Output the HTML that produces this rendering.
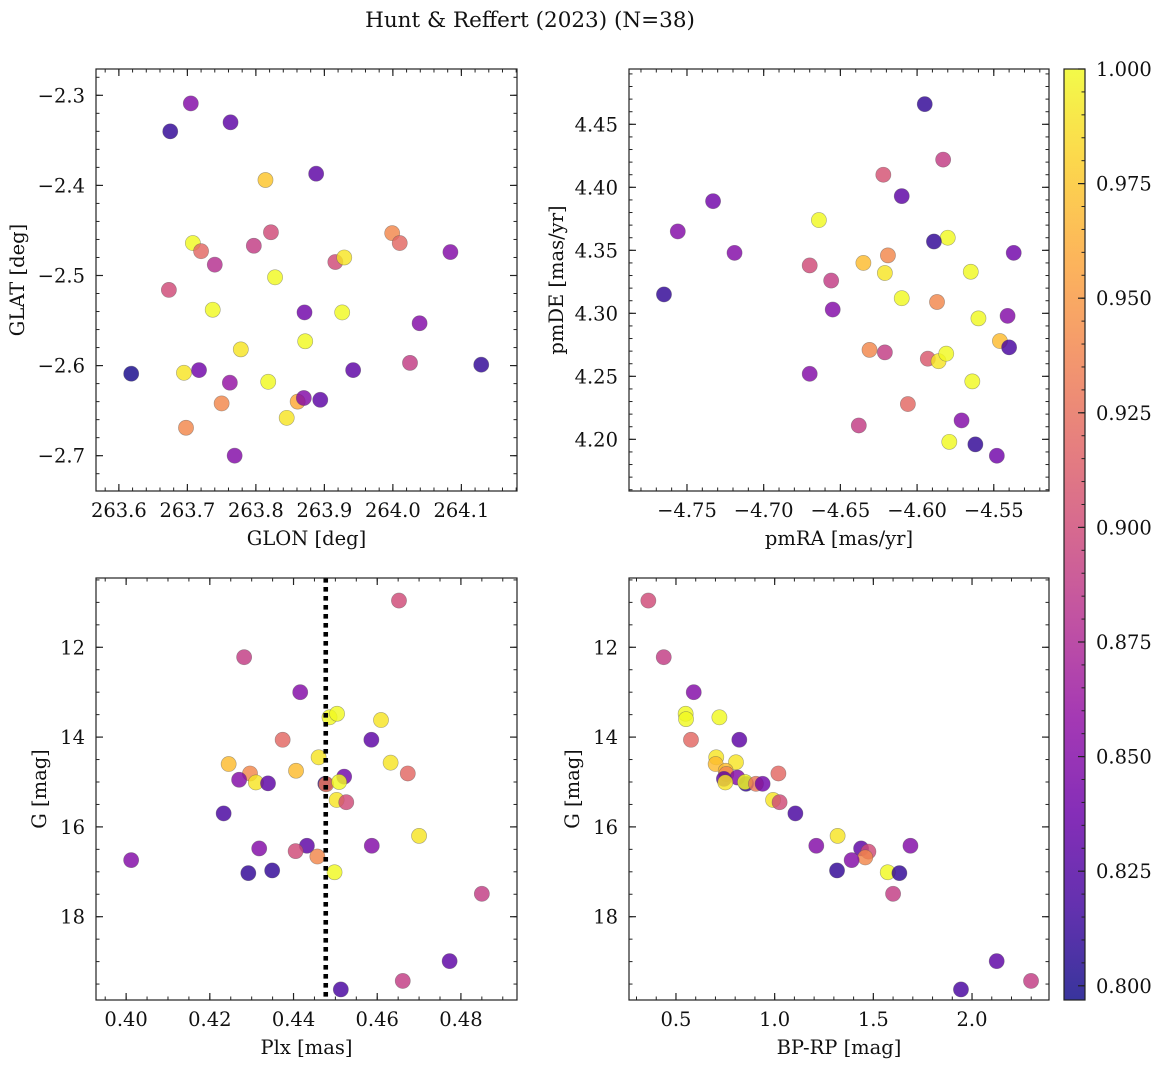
<!DOCTYPE html>
<html><head><meta charset="utf-8">
<style>
html,body{margin:0;padding:0;background:#fff;}
svg{display:block;}
text{font-family:"DejaVu Serif","Liberation Serif",serif;fill:#111;}
</style></head>
<body>
<svg id="fig" width="1161" height="1068" viewBox="0 0 1161 1068" xmlns="http://www.w3.org/2000/svg">
<text x="530" y="27" font-size="21.5" text-anchor="middle">Hunt &amp; Reffert (2023) (N=38)</text>
</svg>
<script>
// ---- Panel 1: GLON / GLAT ----
const glon = [263.675,263.705,263.763,263.814,263.888,263.708,263.720,263.740,263.797,263.822,263.828,263.673,263.737,263.778,263.871,263.916,263.929,263.926,263.872,263.999,264.010,264.039,264.084,263.618,263.695,263.717,263.762,263.750,263.698,263.769,263.818,263.845,263.861,263.870,263.894,263.942,264.025,264.129];
const glat = [-2.340,-2.309,-2.330,-2.394,-2.387,-2.464,-2.473,-2.488,-2.467,-2.452,-2.502,-2.516,-2.538,-2.582,-2.541,-2.485,-2.480,-2.541,-2.573,-2.453,-2.464,-2.553,-2.474,-2.609,-2.608,-2.605,-2.619,-2.642,-2.669,-2.700,-2.618,-2.658,-2.640,-2.636,-2.638,-2.605,-2.597,-2.599];
const prob1 = [0.81,0.85,0.83,0.975,0.83,1.0,0.92,0.88,0.89,0.90,1.0,0.90,1.0,0.99,0.84,0.90,0.99,1.0,1.0,0.94,0.92,0.85,0.85,0.80,0.99,0.84,0.86,0.94,0.94,0.85,1.0,0.99,0.96,0.85,0.83,0.83,0.89,0.81];
// ---- Panel 2: pmRA / pmDE ----
const pmra = [-4.595,-4.583,-4.622,-4.610,-4.733,-4.756,-4.664,-4.580,-4.589,-4.719,-4.619,-4.537,-4.635,-4.621,-4.565,-4.670,-4.656,-4.610,-4.587,-4.655,-4.560,-4.541,-4.765,-4.546,-4.540,-4.631,-4.621,-4.593,-4.586,-4.581,-4.670,-4.564,-4.606,-4.571,-4.638,-4.579,-4.562,-4.548];
const pmde = [4.466,4.422,4.410,4.393,4.389,4.365,4.374,4.360,4.357,4.348,4.346,4.348,4.340,4.332,4.333,4.338,4.326,4.312,4.309,4.303,4.296,4.298,4.315,4.278,4.273,4.271,4.269,4.264,4.262,4.268,4.252,4.246,4.228,4.215,4.211,4.198,4.196,4.187];
const prob2 = [0.81,0.89,0.905,0.83,0.84,0.85,1.0,1.0,0.81,0.85,0.94,0.84,0.97,0.99,1.0,0.90,0.89,1.0,0.94,0.85,1.0,0.85,0.81,0.97,0.82,0.94,0.89,0.91,0.99,1.0,0.85,1.0,0.92,0.85,0.89,1.0,0.81,0.84];
// ---- Panel 3: Plx / G ----
const plx = [0.4652,0.4282,0.4416,0.4486,0.4504,0.4609,0.4374,0.4586,0.4245,0.4460,0.4632,0.4406,0.4296,0.4270,0.4310,0.4339,0.4673,0.4476,0.4478,0.4521,0.4509,0.4503,0.4526,0.4233,0.4700,0.4432,0.4405,0.4318,0.4587,0.4457,0.4012,0.4498,0.4292,0.4349,0.4850,0.4773,0.4661,0.4513];
const gmag3 = [10.96,12.22,13.00,13.56,13.48,13.62,14.06,14.06,14.60,14.45,14.57,14.75,14.81,14.95,15.01,15.03,14.81,15.04,15.05,14.88,15.00,15.40,15.45,15.70,16.20,16.42,16.54,16.48,16.42,16.66,16.74,17.01,17.03,16.97,17.49,18.99,19.43,19.62];
const prob3 = [0.90,0.89,0.85,1.0,1.0,0.99,0.92,0.83,0.97,0.99,0.99,0.97,0.94,0.85,0.99,0.83,0.92,0.81,0.93,0.84,1.0,0.99,0.90,0.82,0.99,0.83,0.90,0.85,0.85,0.94,0.85,1.0,0.81,0.81,0.89,0.83,0.89,0.82];
const plxLine = [0.4477];
// ---- Panel 4: BP-RP / G ----
const bprp = [0.360,0.438,0.590,0.549,0.551,0.720,0.576,0.821,0.704,0.701,0.804,0.752,0.755,0.811,0.743,0.750,1.019,0.855,0.850,0.905,0.939,0.992,1.025,1.105,1.319,1.211,1.438,1.475,1.459,1.688,1.390,1.316,1.573,1.632,1.600,2.125,2.299,1.944];
const gmag4 = [10.96,12.22,13.00,13.48,13.60,13.56,14.06,14.06,14.45,14.60,14.56,14.75,14.82,14.90,14.93,15.01,14.81,15.04,15.00,15.04,15.04,15.40,15.45,15.70,16.20,16.42,16.48,16.55,16.68,16.42,16.74,16.97,17.01,17.03,17.49,18.99,19.43,19.62];
const prob4 = [0.90,0.89,0.85,1.0,1.0,1.0,0.92,0.83,0.99,0.97,0.99,0.97,0.94,0.85,0.83,0.99,0.92,0.81,1.0,0.93,0.84,0.99,0.90,0.82,0.99,0.85,0.83,0.90,0.94,0.85,0.85,0.81,1.0,0.81,0.89,0.83,0.89,0.82];
// ---- ticks ----
const ticks1x = [263.6,263.7,263.8,263.9,264.0,264.1];
const ticks1y = [-2.3,-2.4,-2.5,-2.6,-2.7];
const ticks2x = [-4.75,-4.70,-4.65,-4.60,-4.55];
const ticks2y = [4.20,4.25,4.30,4.35,4.40,4.45];
const ticks3x = [0.40,0.42,0.44,0.46,0.48];
const ticksG = [12,14,16,18];
const ticks4x = [0.5,1.0,1.5,2.0];
const ticksCb = [0.800,0.825,0.850,0.875,0.900,0.925,0.950,0.975,1.000];
const cbMin = 0.7969, cbMax = 1.0;

const FS = 19.5;
const NS = "http://www.w3.org/2000/svg";
const svg = document.getElementById('fig');
const PLASMA = ["#0d0887","#41049d","#6a00a8","#8f0da4","#b12a90","#cc4778","#e16462","#f2844b","#fca636","#fcce25","#f0f921"];
function hex(c){return [parseInt(c.substr(1,2),16),parseInt(c.substr(3,2),16),parseInt(c.substr(5,2),16)];}
function cmap(v){
  let t=(v-cbMin)/(cbMax-cbMin); t=Math.max(0,Math.min(1,t));
  const s=t*10, i=Math.min(9,Math.floor(s)), f=s-i;
  const a=hex(PLASMA[i]), b=hex(PLASMA[i+1]);
  return 'rgb('+a.map((x,k)=>Math.round(x+(b[k]-x)*f)).join(',')+')';
}
function el(tag, attrs, parent){
  const e=document.createElementNS(NS,tag);
  for(const k in attrs) e.setAttribute(k,attrs[k]);
  (parent||svg).appendChild(e); return e;
}
function fmt(v,d){ const s=Math.abs(v).toFixed(d); return (v<0?'\u2212':'')+s; }

function panel(cfg){
  const g=el('g',{});
  
  
  const {x0,x1,y0,y1,xmin,xmax,ymin,ymax,yinv}=cfg;
  const sx=v=>x0+(v-xmin)/(xmax-xmin)*(x1-x0);
  const sy=v=>yinv ? y0+(v-ymin)/(ymax-ymin)*(y1-y0) : y1-(v-ymin)/(ymax-ymin)*(y1-y0);
  const pts=el('g',{},g);
  
  
  for(let i=0;i<cfg.xs.length;i++){
    const c=el('circle',{cx:sx(cfg.xs[i]),cy:sy(cfg.ys[i]),r:7.6,fill:cmap(cfg.cs[i]),'fill-opacity':0.82,stroke:'#555','stroke-opacity':0.5,'stroke-width':0.6},pts);
    
    
  }
  if(cfg.vline){
    const l=el('line',{x1:sx(cfg.vline[0]),x2:sx(cfg.vline[0]),y1:y0,y2:y1,stroke:'#000','stroke-width':4.6,'stroke-dasharray':'4.6 4.4'},g);
    
    
  }
  const fr=el('rect',{x:x0,y:y0,width:x1-x0,height:y1-y0,fill:'none',stroke:'#222','stroke-width':1.2},g);
  
  
  const eps=1e-9;
  for(let v=Math.ceil(xmin/cfg.xminor-eps)*cfg.xminor; v<=xmax+eps; v+=cfg.xminor){
    const X=sx(v);
    el('line',{x1:X,x2:X,y1:y1,y2:y1-3.5,stroke:'#222','stroke-width':1},g);
    el('line',{x1:X,x2:X,y1:y0,y2:y0+3.5,stroke:'#222','stroke-width':1},g);
  }
  for(let v=Math.ceil(Math.min(ymin,ymax)/cfg.yminor-eps)*cfg.yminor; v<=Math.max(ymin,ymax)+eps; v+=cfg.yminor){
    const Y=sy(v);
    el('line',{x1:x0,x2:x0+3.5,y1:Y,y2:Y,stroke:'#222','stroke-width':1},g);
    el('line',{x1:x1,x2:x1-3.5,y1:Y,y2:Y,stroke:'#222','stroke-width':1},g);
  }
  cfg.xt.forEach(v=>{
    const X=sx(v);
    el('line',{x1:X,x2:X,y1:y1,y2:y1-7,stroke:'#222','stroke-width':1.2},g);
    el('line',{x1:X,x2:X,y1:y0,y2:y0+7,stroke:'#222','stroke-width':1.2},g);
    const t=el('text',{x:X,y:y1+26,'font-size':FS,'text-anchor':'middle'},g);
    t.textContent=fmt(v,cfg.xd);
    
    
  });
  cfg.yt.forEach(v=>{
    const Y=sy(v);
    el('line',{x1:x0,x2:x0+7,y1:Y,y2:Y,stroke:'#222','stroke-width':1.2},g);
    el('line',{x1:x1,x2:x1-7,y1:Y,y2:Y,stroke:'#222','stroke-width':1.2},g);
    const t=el('text',{x:x0-11,y:Y+7,'font-size':FS,'text-anchor':'end'},g);
    t.textContent=fmt(v,cfg.yd);
    
    
  });
  const xl=el('text',{x:(x0+x1)/2,y:y1+54,'font-size':FS,'text-anchor':'middle'},g);
  xl.textContent=cfg.xlabel;
  
  
  const yx=cfg.ylx, yy=(y0+y1)/2;
  const yl=el('text',{x:yx,y:yy,'font-size':FS,'text-anchor':'middle',transform:'rotate(-90 '+yx+' '+yy+')'},g);
  yl.textContent=cfg.ylabel;
  
  
}

panel({name:'glon-glat-panel',x0:96,x1:517,y0:69,y1:491,xmin:263.5666,xmax:264.1812,ymin:-2.7392,ymax:-2.2708,
  xs:glon,ys:glat,cs:prob1,xt:ticks1x,yt:ticks1y,xd:1,yd:1,xminor:0.02,yminor:0.02,xlabel:'GLON [deg]',ylabel:'GLAT [deg]',ylx:24});
panel({name:'proper-motion-panel',x0:629,x1:1049,y0:69,y1:491,xmin:-4.7878,xmax:-4.514,ymin:4.159,ymax:4.4939,
  xs:pmra,ys:pmde,cs:prob2,xt:ticks2x,yt:ticks2y,xd:2,yd:2,xminor:0.01,yminor:0.01,xlabel:'pmRA [mas/yr]',ylabel:'pmDE [mas/yr]',ylx:563});
panel({name:'parallax-panel',x0:96,x1:517,y0:578,y1:1000,xmin:0.3928,xmax:0.4934,ymin:10.457,ymax:19.855,yinv:true,
  xs:plx,ys:gmag3,cs:prob3,vline:plxLine,xt:ticks3x,yt:ticksG,xd:2,yd:0,xminor:0.005,yminor:0.5,xlabel:'Plx [mas]',ylabel:'G [mag]',ylx:46});
panel({name:'cmd-panel',x0:629,x1:1049,y0:578,y1:1000,xmin:0.262,xmax:2.390,ymin:10.457,ymax:19.855,yinv:true,
  xs:bprp,ys:gmag4,cs:prob4,xt:ticks4x,yt:ticksG,xd:1,yd:0,xminor:0.1,yminor:0.5,xlabel:'BP-RP [mag]',ylabel:'G [mag]',ylx:579});

(function(){
  const cx0=1064,cx1=1085,cy0=69,cy1=1000;
  const g=el('g',{});
  
  
  const defs=el('defs',{},g);
  const lg=el('linearGradient',{id:'cbgrad',x1:0,y1:1,x2:0,y2:0},defs);
  for(let i=0;i<=40;i++){
    const v=cbMin+(cbMax-cbMin)*i/40;
    el('stop',{offset:(i/40),'stop-color':cmap(v)},lg);
  }
  el('rect',{x:cx0,y:cy0,width:cx1-cx0,height:cy1-cy0,fill:'url(#cbgrad)','fill-opacity':0.82},g);
  el('rect',{x:cx0,y:cy0,width:cx1-cx0,height:cy1-cy0,fill:'none',stroke:'#222','stroke-width':1.2},g);
  const sy=v=>cy1-(v-cbMin)/(cbMax-cbMin)*(cy1-cy0);
  for(let v=0.800; v<=1.0001; v+=0.005){
    el('line',{x1:cx1,x2:cx1-3.5,y1:sy(v),y2:sy(v),stroke:'#222','stroke-width':1},g);
  }
  ticksCb.forEach(v=>{
    el('line',{x1:cx1,x2:cx1-7,y1:sy(v),y2:sy(v),stroke:'#222','stroke-width':1.2},g);
    const t=el('text',{x:cx1+11,y:sy(v)+7,'font-size':FS},g);
    t.textContent=v.toFixed(3);
    
    
  });
})();
</script>
</body></html>
